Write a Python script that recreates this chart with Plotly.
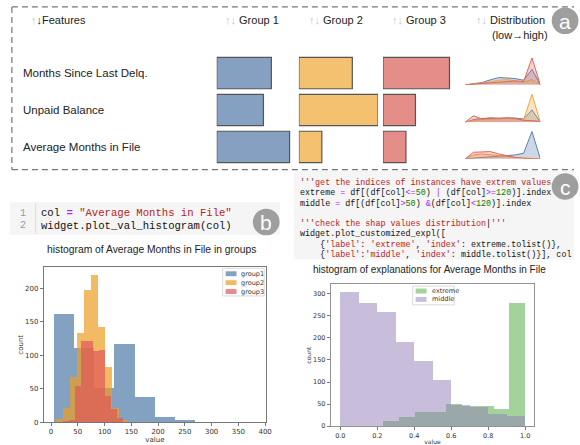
import numpy as np
import plotly.graph_objects as go

W, H = 580, 445

# ---------------- data ----------------
features = ["Months Since Last Delq.", "Unpaid Balance", "Average Months in File"]
group_names = ["Group 1", "Group 2", "Group 3"]
group1_vals = [0.69, 0.59, 0.92]
group2_vals = [0.675, 1.0, 0.29]
group3_vals = [0.84, 0.41, 0.29]

# distribution sparklines (10 bins, low -> high), one list per feature
dist_g1 = [[0, 3, 7, 15, 22, 21, 19, 14, 47, 0],
           [0, 8, 12, 12, 12, 14, 13, 10, 38, 0],
           [0, 2, 3, 4, 6, 8, 12, 17, 83, 0]]
dist_g2 = [[0, 2, 5, 9, 14, 16, 12, 8, 16, 0],
           [0, 6, 8, 9, 10, 12, 10, 8, 85, 0],
           [0, 12, 15, 12, 9, 6, 3, 2, 1, 0]]
dist_g3 = [[0, 2, 4, 6, 9, 12, 12, 10, 82, 0],
           [0, 20, 10, 14, 12, 14, 12, 6, 5, 3],
           [0, 20, 21, 22, 15, 10, 4, 2, 0, 0]]
dist_bins = list(range(10))

# histogram of Average Months in File in groups
g1_edges = [5, 42.8, 80.6, 118.4, 156.2, 194, 231.8, 269.6, 307.4, 345.2, 383]
g1_counts = [161, 110, 51, 117, 37, 8, 3, 1, 0, 1]
g2_edges = [9, 22.2, 35.4, 48.6, 61.8, 75, 88.2, 101.4, 114.6, 127.8, 141]
g2_counts = [5, 21, 67, 133, 197, 219, 142, 82, 21, 3]
g3_edges = [22, 33.2, 44.4, 55.6, 66.8, 78, 89.2, 100.4, 111.6, 122.8, 134]
g3_counts = [2, 4, 54, 121, 121, 106, 108, 39, 19, 7]
hist_groups = ["group1", "group2", "group3"]

# histogram of explanations
ext_edges = [0.145, 0.2305, 0.316, 0.4015, 0.487, 0.5725, 0.658, 0.7435, 0.829, 0.9145, 1.0]
ext_counts = [1, 12, 20, 33, 31, 51, 46, 45, 40, 280]
mid_edges = [0.0, 0.1, 0.2, 0.3, 0.4, 0.5, 0.6, 0.7, 0.8, 0.9, 1.0]
mid_counts = [305, 280, 259, 190, 147, 104, 47, 43, 27, 23]
expl_labels = ["extreme", "middle"]

# ---------------- helpers ----------------
def fx(px):
    return px / W

def fy(py):
    return 1 - py / H

def dom_x(a, b):
    return [fx(a), fx(b)]

def dom_y(top, bottom):
    return [fy(bottom), fy(top)]

def centers(edges):
    e = np.asarray(edges, dtype=float)
    return (e[:-1] + e[1:]) / 2, np.diff(e)

BAR_COLORS = ["#86a0c1", "#f4c170", "#e48d89"]
LINE_COLORS = ["#5b7fae", "#f0a73a", "#e06660"]
FILL_COLORS = ["rgba(91,127,174,0.3)", "rgba(240,167,58,0.3)", "rgba(224,102,96,0.3)"]
HIST_COLORS = ["#4e79a7", "#ee9c22", "#e15759"]
EXT_COLOR = "#47a537"
MID_COLOR = "#917db9"

SANS = "Liberation Sans, Arial, sans-serif"
MONO = "Liberation Mono, DejaVu Sans Mono, monospace"
MPL = "DejaVu Sans, sans-serif"

fig = go.Figure()

# ---------------- panel a: group bars ----------------
gvals = [group1_vals, group2_vals, group3_vals]
for i, vals in enumerate(gvals):
    sfx = "" if i == 0 else str(i + 1)
    fig.add_trace(go.Bar(
        x=vals, y=features, orientation="h", width=0.85,
        marker=dict(color=BAR_COLORS[i], line=dict(color="#555555", width=1.2)),
        xaxis="x" + sfx, yaxis="y" + sfx, showlegend=False, hoverinfo="skip"))

# sparklines
dists = [dist_g1, dist_g2, dist_g3]
for r in range(3):
    ax = str(4 + r)
    for g in [0, 1, 2]:
        fig.add_trace(go.Scatter(
            x=dist_bins, y=dists[g][r], mode="lines", fill="tozeroy",
            fillcolor=FILL_COLORS[g], line=dict(color=LINE_COLORS[g], width=1),
            xaxis="x" + ax, yaxis="y" + ax, showlegend=False, hoverinfo="skip"))

# ---------------- panel b: group histogram ----------------
for edges, counts, col, name in zip([g1_edges, g2_edges, g3_edges],
                                    [g1_counts, g2_counts, g3_counts],
                                    HIST_COLORS, hist_groups):
    c, w = centers(edges)
    fig.add_trace(go.Bar(x=c, y=counts, width=w, name=name,
                         marker=dict(color=col, opacity=0.7, line=dict(width=0)),
                         xaxis="x7", yaxis="y7", showlegend=False))

# ---------------- panel c: explanation histogram ----------------
for edges, counts, col, name in zip([ext_edges, mid_edges], [ext_counts, mid_counts],
                                    [EXT_COLOR, MID_COLOR], expl_labels):
    c, w = centers(edges)
    fig.add_trace(go.Bar(x=c, y=counts, width=w, name=name,
                         marker=dict(color=col, opacity=0.5, line=dict(width=0)),
                         xaxis="x8", yaxis="y8", showlegend=False))

# ---------------- axes ----------------
hidden = dict(visible=False, fixedrange=True)
layout_axes = {}
gx = [(219, 299), (302, 382), (387, 467)]
for i in range(3):
    sfx = "" if i == 0 else str(i + 1)
    layout_axes["xaxis" + sfx] = dict(domain=dom_x(*gx[i]), range=[0, 1], anchor="y" + sfx, **hidden)
    layout_axes["yaxis" + sfx] = dict(domain=dom_y(55.25, 167.75), range=[2.5, -0.5],
                                      type="category", anchor="x" + sfx, **hidden)
spark_y = [(56, 86), (94, 124), (131, 161)]
for r in range(3):
    ax = str(4 + r)
    layout_axes["xaxis" + ax] = dict(domain=dom_x(470, 546), range=[0, 9], anchor="y" + ax, **hidden)
    layout_axes["yaxis" + ax] = dict(domain=dom_y(*spark_y[r]), range=[0, 90], anchor="x" + ax, **hidden)

tickfont = dict(family=MPL, size=7, color="#333333")
common = dict(showline=True, mirror=True, linecolor="#555555", linewidth=0.8,
              ticks="outside", ticklen=3, tickwidth=0.8, tickcolor="#555555",
              showgrid=False, zeroline=False, tickfont=tickfont, fixedrange=True)
layout_axes["xaxis7"] = dict(domain=dom_x(44, 269), range=[-14, 402], anchor="y7",
                             tickvals=[0, 50, 100, 150, 200, 250, 300, 350, 400],
                             title=dict(text="value", font=dict(family=MPL, size=7, color="#333"), standoff=1),
                             **common)
layout_axes["yaxis7"] = dict(domain=dom_y(271, 428), range=[0, 231], anchor="x7",
                             tickvals=[0, 50, 100, 150, 200],
                             title=dict(text="count", font=dict(family=MPL, size=7, color="#333"), standoff=0),
                             **common)
common8 = dict(common)
common8["linecolor"] = "#777777"
common8["tickfont"] = dict(family=MPL, size=6.5, color="#333333")
layout_axes["xaxis8"] = dict(domain=dom_x(334, 540), range=[-0.053, 1.05], anchor="y8",
                             tickvals=[0, 0.2, 0.4, 0.6, 0.8, 1.0], tickformat=".1f",
                             title=dict(text="value", font=dict(family=MPL, size=6, color="#333"), standoff=1),
                             **common8)
layout_axes["yaxis8"] = dict(domain=dom_y(288, 432), range=[0, 322], anchor="x8",
                             tickvals=[0, 50, 100, 150, 200, 250, 300],
                             title=dict(text="count", font=dict(family=MPL, size=6, color="#333"), standoff=0),
                             **common8)

shapes = []
annotations = []

# ---------------- panel a frame ----------------
dash = "6px,4px"
for (x0, y0, x1, y1) in [(12, 7, 580, 7), (12, 7, 12, 172), (12, 172, 580, 172)]:
    shapes.append(dict(type="line", xref="paper", yref="paper",
                       x0=fx(x0), y0=fy(y0), x1=fx(x1), y1=fy(y1),
                       line=dict(color="#777777", width=1.2, dash=dash)))

ARW = "#c4c4c4"
hdr = dict(family=SANS, size=11, color="#222222")
annotations.append(dict(xref="paper", yref="paper", x=fx(29), y=fy(20), xanchor="left", yanchor="middle",
                        showarrow=False, font=hdr,
                        text=f'<span style="color:{ARW}">↑</span><span style="color:#222">↓</span>Features'))
for name, px in zip(group_names, [225, 310, 394]):
    annotations.append(dict(xref="paper", yref="paper", x=fx(px), y=fy(20), xanchor="left", yanchor="middle",
                            showarrow=False, font=hdr,
                            text=f'<span style="color:{ARW}">↑↓</span> {name}'))
annotations.append(dict(xref="paper", yref="paper", x=fx(479), y=fy(20), xanchor="left", yanchor="middle",
                        showarrow=False, font=hdr,
                        text=f'<span style="color:{ARW}">↑↓</span> Distribution'))
annotations.append(dict(xref="paper", yref="paper", x=fx(495), y=fy(35), xanchor="left", yanchor="middle",
                        showarrow=False, font=hdr, text="(low→high)"))
for f in features:
    annotations.append(dict(xref="paper", yref="y", x=fx(21), y=f, xanchor="left", yanchor="middle",
                            showarrow=False, font=dict(family=SANS, size=11.5, color="#222222"), text=f))

# ---------------- code helpers ----------------
def seg(text, color=None, bold=False):
    t = text.replace("&", "&amp;").replace("<", "&lt;").replace(">", "&gt;").replace(" ", "\u00a0")
    if bold:
        t = "<b>" + t + "</b>"
    if color:
        t = f'<span style="color:{color}">{t}</span>'
    return t

RED = "#ba2121"
PUR = "#aa22ff"
GRN = "#008000"

# ---------------- panel b code cell ----------------
shapes.append(dict(type="rect", xref="paper", yref="paper", x0=fx(10), x1=fx(283), y0=fy(205), y1=fy(238),
                   fillcolor="#f5f5f5", line=dict(width=0), layer="below"))
shapes.append(dict(type="line", xref="paper", yref="paper", x0=fx(36), x1=fx(36), y0=fy(206), y1=fy(237),
                   line=dict(color="#dddddd", width=1)))
code_b = [
    seg("col ") + seg("=", PUR, True) + seg(" ") + seg('"Average Months in File"', RED),
    seg("widget.plot_val_histogram(col)"),
]
for i, line in enumerate(code_b):
    yy = 216 + i * 13
    annotations.append(dict(xref="paper", yref="paper", x=fx(28), y=fy(yy), xanchor="right", yanchor="middle",
                            showarrow=False, font=dict(family=MONO, size=10, color="#999999"), text=str(i + 1)))
    annotations.append(dict(xref="paper", yref="paper", x=fx(39), y=fy(yy), xanchor="left", yanchor="middle",
                            showarrow=False, font=dict(family=MONO, size=10.6, color="#111111"), text=line))

# ---------------- panel c code cell ----------------
shapes.append(dict(type="rect", xref="paper", yref="paper", x0=fx(297), x1=fx(580), y0=fy(173), y1=fy(263),
                   fillcolor="#f5f5f5", line=dict(width=0), layer="below"))
code_c = [
    seg("'''get the indices of instances have extrem values", RED),
    seg("extreme ") + seg("=", PUR) + seg(" df[(df[col]") + seg("<=", PUR) + seg("50", GRN) + seg(") ")
    + seg("|", PUR) + seg(" (df[col]") + seg(">=", PUR) + seg("120", GRN) + seg(")].index"),
    seg("middle ") + seg("=", PUR) + seg(" df[(df[col]") + seg(">", PUR) + seg("50", GRN) + seg(") ")
    + seg("&", PUR) + seg("(df[col]") + seg("<", PUR) + seg("120", GRN) + seg(")].index"),
    "",
    seg("'''check the shap values distribution", RED) + seg("|", "#000") + seg("'''", RED),
    seg("widget.plot_customized_expl(["),
    seg("    {") + seg("'label'", RED) + seg(": ") + seg("'extreme'", RED) + seg(", ") + seg("'index'", RED)
    + seg(": extreme.tolist()},"),
    seg("    {") + seg("'label'", RED) + seg(":") + seg("'middle'", RED) + seg(", ") + seg("'index'", RED)
    + seg(": middle.tolist()}], col"),
]
for i, line in enumerate(code_c):
    if not line:
        continue
    yy = 185.5 + i * 10.4
    annotations.append(dict(xref="paper", yref="paper", x=fx(301), y=fy(yy), xanchor="left", yanchor="middle",
                            showarrow=False, font=dict(family=MONO, size=8.4, color="#111111"), text=line))

# ---------------- chart titles ----------------
annotations.append(dict(xref="paper", yref="paper", x=fx(153), y=fy(253), xanchor="center", yanchor="middle",
                        showarrow=False, font=dict(family=SANS, size=10.3, color="#222222"),
                        text="histogram of Average Months in File in groups"))
annotations.append(dict(xref="paper", yref="paper", x=fx(434), y=fy(273), xanchor="center", yanchor="middle",
                        showarrow=False, font=dict(family=SANS, size=10, color="#222222"),
                        text="histogram of explanations for Average Months in File"))

# ---------------- legends (drawn) ----------------
def legend_box(x0, y0, x1, y1, items, colors, opac, row_y):
    shapes.append(dict(type="rect", xref="paper", yref="paper", x0=fx(x0), x1=fx(x1), y0=fy(y0), y1=fy(y1),
                       fillcolor="white", line=dict(color="#d0d0d0", width=0.8)))
    for lab, col, yy in zip(items, colors, row_y):
        shapes.append(dict(type="rect", xref="paper", yref="paper", x0=fx(x0 + 3), x1=fx(x0 + 14),
                           y0=fy(yy - 2.5), y1=fy(yy + 2.5), fillcolor=col, opacity=opac, line=dict(width=0)))
        annotations.append(dict(xref="paper", yref="paper", x=fx(x0 + 17), y=fy(yy), xanchor="left",
                                yanchor="middle", showarrow=False,
                                font=dict(family=MPL, size=6.5, color="#333333"), text=lab))

legend_box(225, 272, 267, 300, hist_groups, HIST_COLORS, 0.7, [277.5, 286.5, 295.5])
legend_box(417, 290, 459, 309, expl_labels, [EXT_COLOR, MID_COLOR], 0.5, [295, 303.5])

# ---------------- panel badges ----------------
for letter, (cx, cy) in zip(["a", "b", "c"], [(571, 21), (269, 225), (571, 189)]):
    r = 13.5
    shapes.append(dict(type="circle", xref="paper", yref="paper", x0=fx(cx - r), x1=fx(cx + r),
                       y0=fy(cy + r), y1=fy(cy - r), fillcolor="#9e9e9e", line=dict(width=0)))
    annotations.append(dict(xref="paper", yref="paper", x=fx(cx), y=fy(cy + 1), xanchor="center",
                            yanchor="middle", showarrow=False,
                            font=dict(family=SANS, size=21, color="white"), text=letter))

fig.update_layout(
    width=W, height=H, autosize=False,
    margin=dict(l=0, r=0, t=0, b=0),
    paper_bgcolor="white", plot_bgcolor="white",
    barmode="overlay", bargap=0,
    showlegend=False, hovermode=False, dragmode=False,
    shapes=shapes, annotations=annotations,
    **layout_axes,
)

fig.write_html("out.html", config={"displayModeBar": False, "staticPlot": True},
               post_script="document.body.style.margin='0px';document.body.style.overflow='hidden';")
